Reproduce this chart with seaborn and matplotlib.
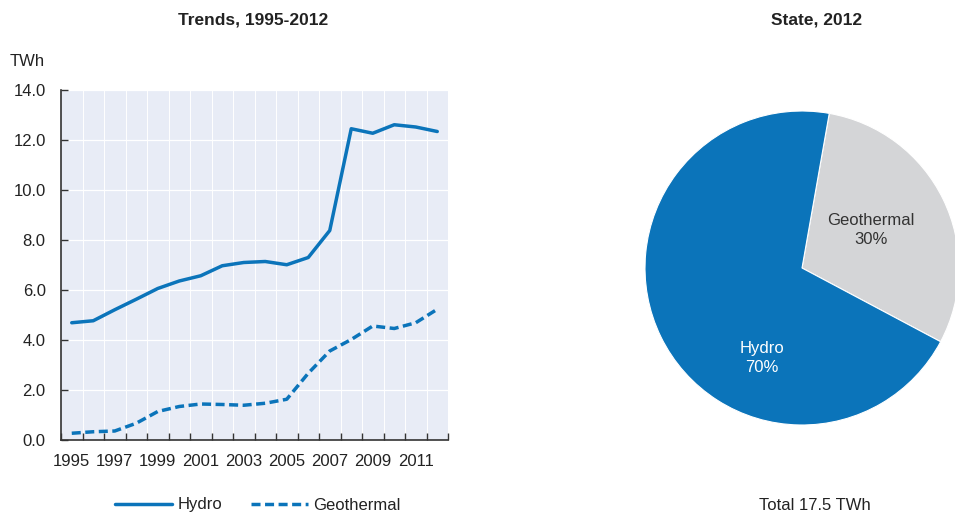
import numpy as np
import pandas as pd
import matplotlib
matplotlib.use("Agg")
import matplotlib.pyplot as plt
import seaborn as sns
from matplotlib.ticker import FixedLocator
from matplotlib.lines import Line2D

years = list(range(1995, 2013))
hydro = [4.69, 4.77, 5.21, 5.63, 6.06, 6.36, 6.57, 6.97, 7.10, 7.14, 7.01, 7.30, 8.38,
         12.45, 12.27, 12.61, 12.52, 12.34]
geothermal = [0.27, 0.33, 0.36, 0.67, 1.14, 1.34, 1.44, 1.42, 1.39, 1.47, 1.63, 2.67, 3.56,
              4.02, 4.56, 4.46, 4.69, 5.23]
series_names = ["Hydro", "Geothermal"]
pie_labels = ["Geothermal", "Hydro"]
pie_shares = [30, 70]
total_label = "Total 17.5 TWh"

BLUE = "#0B74BA"
GREY = "#D4D5D7"
BG = "#E8ECF6"
TXT = "#222222"
DASH = (2.6, 1.3)

sns.set_theme(style="white")
plt.rcParams["font.family"] = ["Liberation Sans Narrow", "Liberation Sans", "DejaVu Sans"]
plt.rcParams["text.color"] = TXT

df = pd.DataFrame({
    "year": years * 2,
    "value": hydro + geothermal,
    "series": ["Hydro"] * len(years) + ["Geothermal"] * len(years),
})

fig = plt.figure(figsize=(9.55, 5.14), dpi=100)
W, H = 955, 514
ax = fig.add_axes([61 / W, 1 - 440 / H, (448 - 61) / W, (440 - 90) / H])
ax.set_facecolor(BG)

sns.lineplot(data=df, x="year", y="value", style="series", style_order=series_names,
             dashes={"Hydro": "", "Geothermal": DASH}, color=BLUE, lw=2.5, ax=ax,
             legend=False)

ax.set_xlim(1994.5, 2012.5)
ax.set_ylim(0, 14)
yt = np.arange(0, 14.1, 2)
ax.set_yticks(yt)
ax.set_yticklabels([f"{v:.1f}" for v in yt])
ax.xaxis.set_major_locator(FixedLocator([y for y in years if y % 2 == 1]))
ax.xaxis.set_minor_locator(FixedLocator(np.arange(1994.5, 2013, 1)))
ax.set_xlabel("")
ax.set_ylabel("")
ax.grid(False)
for yv in np.arange(2, 14.1, 2):
    ax.axhline(yv, color="white", lw=0.9, zorder=0)
for xv in np.arange(1995.5, 2012.5, 1):
    ax.axvline(xv, color="white", lw=0.7, zorder=0)
for s in ["top", "right"]:
    ax.spines[s].set_visible(False)
for s in ["left", "bottom"]:
    ax.spines[s].set_color("#333333")
    ax.spines[s].set_linewidth(1.2)
ax.tick_params(axis="x", which="major", length=0, labelsize=12, colors=TXT, pad=10)
ax.tick_params(axis="x", which="minor", length=5, width=1, direction="in", color="#333333", bottom=True)
ax.tick_params(axis="y", which="major", length=5, width=1, direction="in", labelsize=12,
               colors="#333333", labelcolor=TXT, left=True, pad=11)

fig.text(253 / W, 1 - 20 / H, "Trends, 1995-2012", ha="center", va="center",
         fontsize=12.5, fontweight="bold")
fig.text(27 / W, 1 - 61 / H, "TWh", ha="center", va="center", fontsize=12)

# legend
handles = [Line2D([], [], color=BLUE, lw=2.5),
           Line2D([], [], color=BLUE, lw=2.5, dashes=DASH)]
fig.legend(handles, series_names, loc="center", bbox_to_anchor=(258 / W, 1 - 505 / H),
           ncol=2, frameon=False, fontsize=12, handlelength=3.4, columnspacing=1.7,
           handletextpad=0.35)

# pie
cx, cy, r = 802, 268, 157
pax = fig.add_axes([(cx - r) / W, 1 - (cy + r) / H, 2 * r / W, 2 * r / H])
wedges, _ = pax.pie(pie_shares, colors=[GREY, BLUE], startangle=80, counterclock=False,
                    wedgeprops=dict(edgecolor="white", linewidth=0.8))
pax.set_aspect("equal")
pax.set_xlim(-1, 1)
pax.set_ylim(-1, 1)

def to_ax(px, py):
    return ((px - cx) / r, (cy - py) / r)

gx, gy = to_ax(871, 230)
pax.text(gx, gy, f"{pie_labels[0]}\n{pie_shares[0]}%", ha="center", va="center",
         fontsize=12, color="#333333", linespacing=1.3)
hx, hy = to_ax(762, 358)
pax.text(hx, hy, f"{pie_labels[1]}\n{pie_shares[1]}%", ha="center", va="center",
         fontsize=12, color="white", linespacing=1.3)

fig.text(817 / W, 1 - 20 / H, "State, 2012", ha="center", va="center",
         fontsize=12.5, fontweight="bold")
fig.text(815 / W, 1 - 505 / H, total_label, ha="center", va="center", fontsize=12)

fig.savefig("out.png", dpi=100, facecolor="white")
